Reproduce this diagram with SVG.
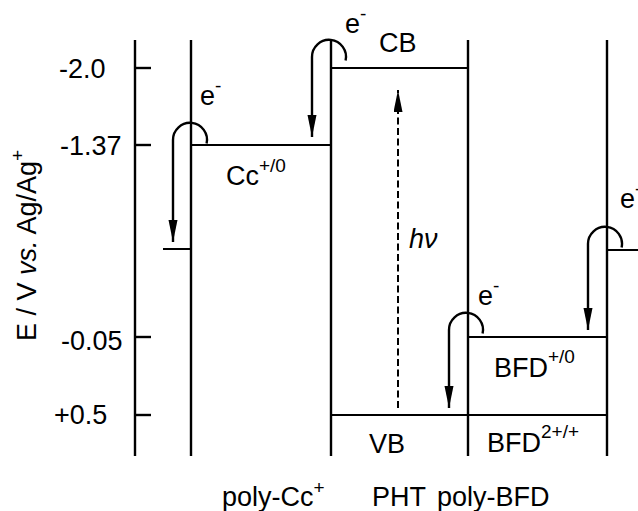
<svg xmlns="http://www.w3.org/2000/svg" width="638" height="511" viewBox="0 0 638 511">
<style>
text{font-family:"Liberation Sans",Arial,sans-serif;font-size:27px;fill:#000}
.sup{font-size:19px}
.ln{stroke:#000;stroke-width:2.4;fill:none}
.lv{stroke:#000;stroke-width:2;fill:none}
.hook{stroke:#000;stroke-width:2.4;fill:none;marker-end:url(#ah)}
.dash{stroke:#000;stroke-width:2;fill:none;stroke-dasharray:7 3.5;marker-end:url(#ah)}
</style>
<defs>
<marker id="ah" markerUnits="userSpaceOnUse" markerWidth="24" markerHeight="10" refX="22" refY="4.5" orient="auto">
<path d="M0,0 L22,4.5 L0,9 z" fill="#000"/>
</marker>
</defs>
<rect width="638" height="511" fill="#fff"/>
<g id="axis">
<line class="ln" x1="135" y1="40" x2="135" y2="456"/>
<line class="ln" x1="135" y1="68" x2="151" y2="68"/>
<line class="ln" x1="135" y1="145" x2="151" y2="145"/>
<line class="ln" x1="135" y1="337" x2="151" y2="337"/>
<line class="ln" x1="135" y1="415" x2="151" y2="415"/>
<text x="59" y="78">-2.0</text>
<text x="60" y="155">-1.37</text>
<text x="61" y="350">-0.05</text>
<text x="54" y="424">+0.5</text>
<text transform="translate(36,341) rotate(-90)" font-size="26">E / V <tspan font-style="italic">vs.</tspan> Ag/Ag<tspan class="sup" dy="-12">+</tspan></text>
</g>
<g id="poly-Cc">
<line class="ln" x1="191" y1="40" x2="191" y2="456"/>
<line class="lv" x1="163" y1="249" x2="191" y2="249"/>
<line class="lv" x1="191" y1="145" x2="331" y2="145"/>
<text x="226" y="185">Cc<tspan class="sup" dy="-13">+/0</tspan></text>
<text x="222" y="506">poly-Cc<tspan class="sup" dy="-12">+</tspan></text>
</g>
<g id="PHT">
<line class="ln" x1="331" y1="40" x2="331" y2="456"/>
<line class="lv" x1="331" y1="68" x2="468" y2="68"/>
<line class="lv" x1="331" y1="415" x2="468" y2="415"/>
<text x="379" y="52">CB</text>
<text x="409" y="248" font-style="italic">hν</text>
<text x="369" y="453">VB</text>
<text x="372" y="506">PHT</text>
</g>
<g id="poly-BFD">
<line class="ln" x1="468" y1="40" x2="468" y2="456"/>
<line class="ln" x1="607" y1="40" x2="607" y2="456"/>
<line class="lv" x1="468" y1="337" x2="607" y2="337"/>
<line class="lv" x1="468" y1="415" x2="607" y2="415"/>
<line class="lv" x1="607" y1="250" x2="638" y2="250"/>
<text x="494" y="377">BFD<tspan class="sup" dy="-14">+/0</tspan></text>
<text x="487" y="452">BFD<tspan class="sup" dy="-14">2+/+</tspan></text>
<text x="437" y="506">poly-BFD</text>
</g>
<g id="connectors">
<path class="hook" d="M206.6,143.5 A17,17 0 1 0 173,140 V242"/>
<path class="hook" d="M345.6,60.5 A17,17 0 1 0 312,57 V137"/>
<path class="hook" d="M482.6,333.5 A17,17 0 1 0 449,330 V408"/>
<path class="hook" d="M621.6,247.5 A17,17 0 1 0 588,244 V330"/>
<path class="dash" d="M398,408 V90"/>
<text x="200" y="105">e<tspan class="sup" dy="-13">-</tspan></text>
<text x="345" y="33">e<tspan class="sup" dy="-13">-</tspan></text>
<text x="478" y="305">e<tspan class="sup" dy="-13">-</tspan></text>
<text x="620" y="208">e<tspan class="sup" dy="-13">-</tspan></text>
</g>
</svg>
